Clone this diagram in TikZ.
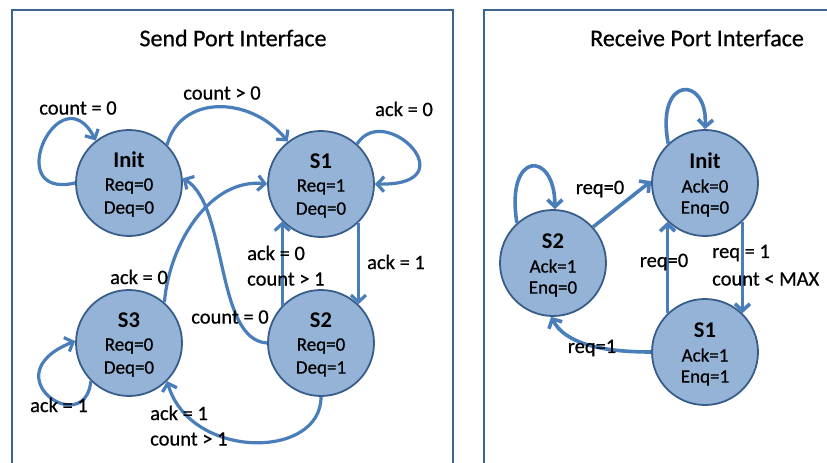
\documentclass[tikz,border=0pt]{standalone}
\usepackage{fontspec}
\setmainfont{Carlito}
\newfontfamily\heavy{Carlito}[FakeBold=0.6]
\usetikzlibrary{arrows.meta}
\definecolor{arrowc}{HTML}{4A7EBB}
\definecolor{fillc}{HTML}{95B3D7}
\definecolor{borderc}{HTML}{385D8A}
\definecolor{boxc}{HTML}{3F6391}
\tikzset{
  state/.style={circle,draw=borderc,fill=fillc,line width=1.8pt,minimum size=106pt,inner sep=0pt},
  sname/.style={font=\fontsize{22.5}{24}\selectfont\bfseries,inner sep=0pt},
  sline/.style={font=\fontsize{19}{21}\selectfont\heavy,inner sep=0pt},
  lbl/.style={font=\fontsize{20.5}{22}\selectfont\heavy,inner sep=0pt,text=black},
  lbll/.style={lbl,anchor=west},
  ttl/.style={font=\fontsize{24}{26}\selectfont\heavy,inner sep=0pt},
  tr/.style={draw=arrowc,line width=3.2pt,-{Straight Barb[length=7pt,width=15pt]}},
  trr/.style={tr,line width=3.6pt},
  panel/.style={draw=boxc,line width=2.6pt}
}
\begin{document}
\begin{tikzpicture}[x=1pt,y=1pt]
\useasboundingbox (0,0) rectangle (827,-463);
\clip (0,0) rectangle (827,-463);
\fill[white] (0,0) rectangle (827,-463);
% panels
\draw[panel] (12,-10) rectangle (453,-480);
\draw[panel] (484,-10) rectangle (860,-480);
\node[ttl] (t1) at (233,-38) {Send Port Interface};
\node[ttl] (t2) at (697,-38) {Receive Port Interface};

% ---------- Send port states
\node[state] (Init) at (129,-183) {};
\node[state] (S1) at (321,-184) {};
\node[state] (S3) at (129,-343) {};
\node[state] (S2) at (321,-343) {};
\foreach \n/\a/\b/\c in {Init/Init/Req=0/Deq=0, S1/S1/Req=1/Deq=0, S3/S3/Req=0/Deq=0, S2/S2/Req=0/Deq=1}{
  \node[sname] (\n-a) at ([yshift=23pt]\n.center) {\a};
  \node[sline] (\n-b) at ([yshift=-3pt]\n.center) {\b};
  \node[sline] (\n-c) at ([yshift=-26pt]\n.center) {\c};
}

% ---------- Receive port states
\node[state] (RI) at (705,-183) {};
\node[state] (RS2) at (553,-263) {};
\node[state] (RS1) at (705,-352) {};
\foreach \n/\a/\b/\c in {RI/Init/Ack=0/Enq=0, RS2/S2/Ack=1/Enq=0, RS1/S1/Ack=1/Enq=1}{
  \node[sname] (\n-a) at ([yshift=22pt]\n.center) {\a};
  \node[sline] (\n-b) at ([yshift=-3pt]\n.center) {\b};
  \node[sline] (\n-c) at ([yshift=-26pt]\n.center) {\c};
}

% ---------- Send port transitions
\draw[tr] (Init.180) .. controls (0,-200) and (60,-72) .. (Init.128);
\node[lbl] (l1) at (78,-108) {count = 0};

\draw[tr] (Init.45) .. controls (180,-95) and (250,-95) .. (S1.128);
\node[lbl] (l2) at (222,-93) {count > 0};

\draw[tr] (S1.48) .. controls (385,-100) and (470,-186) .. (S1.0);
\node[lbl] (l3) at (404,-109) {ack = 0};

\draw[tr] (S1.-46) -- (S2.46);
\node[lbl] (l4) at (396,-262) {ack = 1};

\draw[tr] (S2.136) -- (S1.-136);
\node[lbll] (l5a) at (247,-253) {ack = 0};
\node[lbll] (l5b) at (247,-279) {count > 1};

\draw[tr] (S2.180) .. controls (215,-340) and (228,-205) .. (Init.5);
\node[lbl] (l6) at (230,-317) {count = 0};

\draw[tr] (S3.49) .. controls (170,-240) and (212,-178) .. (S1.180);
\node[lbl] (l7) at (139,-277) {ack = 0};

\draw[tr] (S3.225) .. controls (85,-440) and (-10,-375) .. (S3.178);
\node[lbl] (l8) at (59,-405) {ack = 1};

\draw[tr] (S2.-90) .. controls (321,-460) and (190,-460) .. (S3.-45);
\node[lbll] (l9a) at (150,-413) {ack = 1};
\node[lbll] (l9b) at (150,-439) {count > 1};

% ---------- Receive port transitions
\draw[trr] (RI.133) .. controls (655,-75) and (708,-75) .. (RI.90);
\draw[trr] (RS2.132) .. controls (505,-150) and (555,-150) .. (RS2.88);

\draw[trr] (RS2.42) -- (RI.178);
\node[lbl] (r1) at (600,-189) {req=0};

\draw[trr] (RS1.134) -- (RI.-134);
\node[lbl] (r2) at (664,-262) {req=0};

\draw[trr] (RI.-46) -- (RS1.46);
\node[lbll] (r3a) at (712,-253) {req = 1};
\node[lbll] (r3b) at (712,-279) {count < MAX};

\draw[trr] (RS1.180) .. controls (600,-352) and (565,-343) .. (RS2.-92);
\node[lbl] (r4) at (592,-348) {req=1};
\end{tikzpicture}
\end{document}
